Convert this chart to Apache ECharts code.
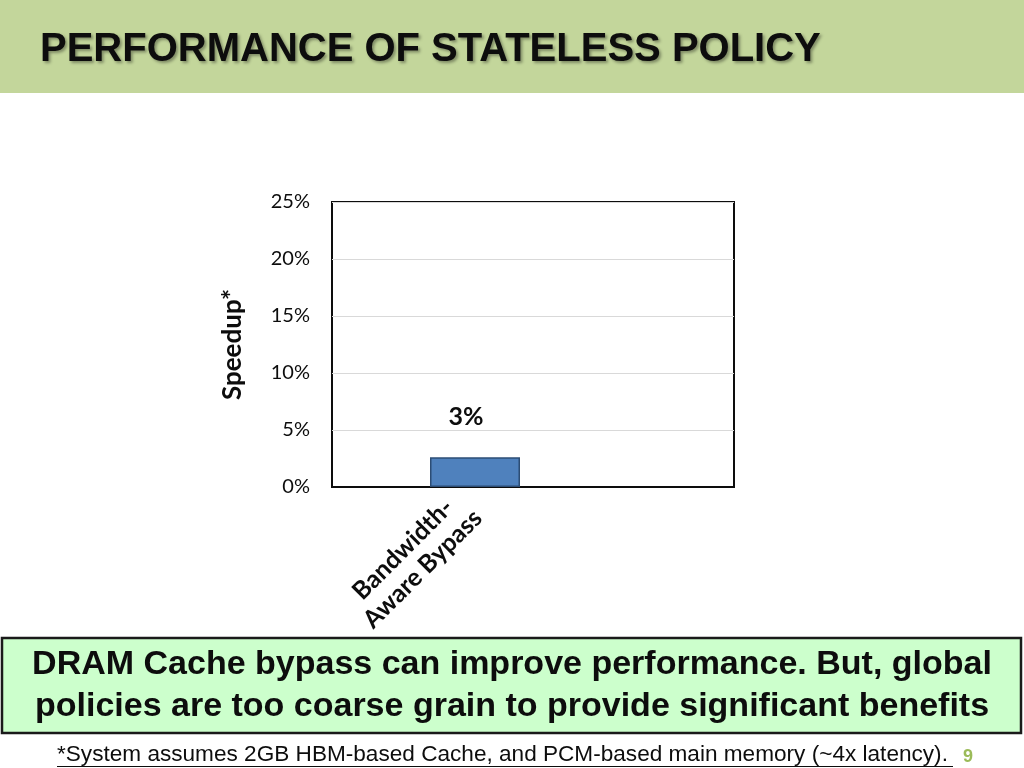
<!DOCTYPE html>
<html>
<head>
<meta charset="utf-8">
<script src="https://cdn.jsdelivr.net/npm/echarts@6/dist/echarts.min.js"></script>
<style>html,body{margin:0;padding:0;background:#fff;}#main{width:1024px;height:768px;}</style>
</head>
<body>
<div id="main"></div>
<script>
var categories = ['Bandwidth-\nAware Bypass'];
var speedupValues = [0.026];
var yTickMin = 0, yTickMax = 0.25, yTickStep = 0.05;
var titleText = 'PERFORMANCE OF STATELESS POLICY';
var boxLines = ['DRAM Cache bypass can improve performance. But, global', 'policies are too coarse grain to provide significant benefits'];
var footnoteText = '*System assumes 2GB HBM-based Cache, and PCM-based main memory (~4x latency).';
var pageNumber = '9';

var chart = echarts.init(document.getElementById('main'));
var chartFont = 'Lato, "Open Sans", sans-serif';
var option = {
  animation: false,
  backgroundColor: '#ffffff',
  graphic: [
    {type: 'rect', shape: {x: 0, y: 0, width: 1024, height: 93}, style: {fill: '#C3D69B'}},
    {type: 'text', x: 40, y: 50, style: {text: titleText, verticalAlign: 'middle', font: 'bold 40px "Liberation Sans", Arial, sans-serif', fill: '#0d0d0d', textShadowColor: 'rgba(0,0,0,0.35)', textShadowOffsetX: 2, textShadowOffsetY: 2, textShadowBlur: 3}},
    {type: 'rect', shape: {x: 2, y: 638, width: 1019, height: 95}, style: {fill: '#CCFFCC', stroke: '#1a1a1a', lineWidth: 2.5}},
    {type: 'text', x: 512, y: 686, style: {text: boxLines.join('\n'), align: 'center', verticalAlign: 'middle', lineHeight: 42, font: 'bold 34px "Liberation Sans", Arial, sans-serif', fill: '#0d0d0d'}},
    {type: 'text', x: 57, y: 755, style: {text: footnoteText, verticalAlign: 'middle', font: '22.6px "Liberation Sans", Arial, sans-serif', fill: '#0d0d0d'}},
    {type: 'rect', shape: {x: 57, y: 766, width: 896, height: 1}, style: {fill: '#0d0d0d'}},
    {type: 'text', x: 968, y: 757, style: {text: pageNumber, align: 'center', verticalAlign: 'middle', font: 'bold 18px "Liberation Sans", Arial, sans-serif', fill: '#9BBB59'}}
  ],
  grid: [
    {left: 332, top: 202, width: 402, height: 285, show: true, borderColor: '#0d0d0d', borderWidth: 2, backgroundColor: 'transparent'},
    {left: 332, top: 202, width: 286, height: 285}
  ],
  xAxis: [
    {type: 'category', gridIndex: 0, data: [''], axisLine: {show: true, lineStyle: {color: '#0d0d0d', width: 2}}, axisTick: {show: false}, axisLabel: {show: false}},
    {type: 'category', gridIndex: 1, data: categories, axisLine: {show: false}, axisTick: {show: false},
      axisLabel: {rotate: 45, interval: 0, margin: 10, padding: [0, 10, 0, 0], color: '#0d0d0d',
        formatter: function (v) { return v.split('\n').map(function (s) { return '{c|' + s + '}'; }).join('\n'); },
        rich: {c: {align: 'center', fontFamily: chartFont, fontWeight: 'bold', fontSize: 25, lineHeight: 28, color: '#0d0d0d'}}}}
  ],
  yAxis: [
    {type: 'value', gridIndex: 0, min: yTickMin, max: yTickMax, interval: yTickStep,
      name: 'Speedup*', nameLocation: 'middle', nameGap: 86, nameTextStyle: {fontFamily: chartFont, fontWeight: 'bold', fontSize: 26, color: '#0d0d0d'},
      axisLine: {show: false}, axisTick: {show: false},
      axisLabel: {margin: 22, fontFamily: chartFont, fontSize: 20, color: '#0d0d0d', formatter: function (v) { return Math.round(v * 100) + '%'; }},
      splitLine: {show: true, lineStyle: {color: '#D9D9D9', width: 1}}},
    {type: 'value', gridIndex: 1, min: yTickMin, max: yTickMax, interval: yTickStep, show: false, splitLine: {show: false}}
  ],
  series: [
    {type: 'bar', xAxisIndex: 1, yAxisIndex: 1, data: speedupValues, barWidth: 90,
      itemStyle: {color: '#4F81BD', borderColor: '#2C4D75', borderWidth: 1.5},
      label: {show: true, position: 'top', distance: 28, offset: [-9, 0], fontFamily: chartFont, fontWeight: 'bold', fontSize: 25, color: '#0d0d0d',
        formatter: function (p) { return Math.round(p.value * 100) + '%'; }}}
  ]
};
chart.setOption(option);
</script>
</body>
</html>
